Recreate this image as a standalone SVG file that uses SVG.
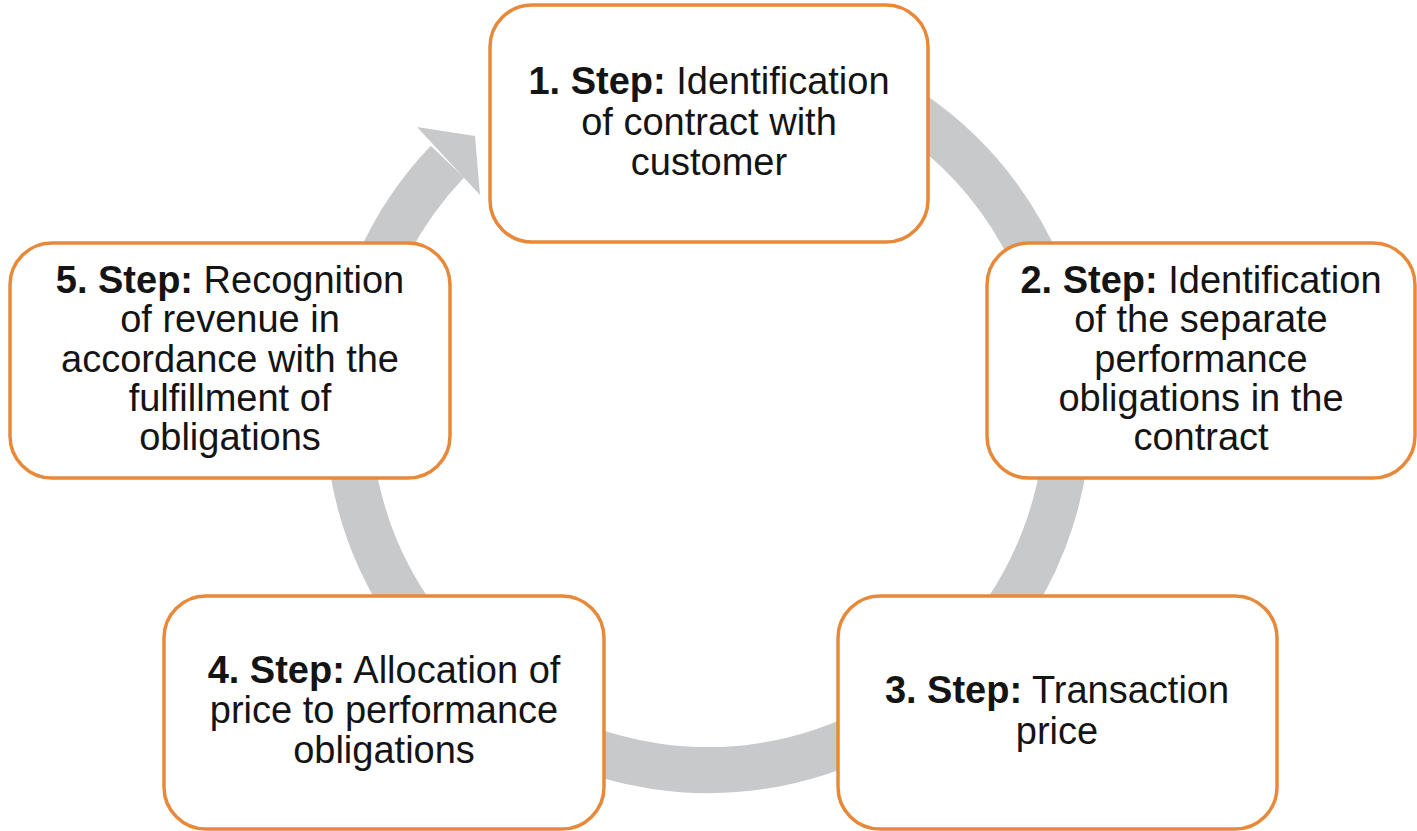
<svg xmlns="http://www.w3.org/2000/svg" width="1417" height="831" viewBox="0 0 1417 831">
  <style>
    .box { fill: #ffffff; stroke: #e8893a; stroke-width: 3.5; }
    .ring { fill: none; stroke: #c8c9cb; stroke-width: 46; }
    .head { fill: #c8c9cb; }
    text { font-family: "Liberation Sans", Arial, sans-serif; font-size: 38px; fill: #141414; text-anchor: middle; }
    .b { font-weight: bold; }
  </style>
  <rect width="1417" height="831" fill="#ffffff"/>
  <g id="connectors">
    <path class="ring" d="M 770.5 55.5 A 360 360 0 1 1 447.4 161.6"/>
    <polygon class="head" points="417,127 480,195 475,136"/>
  </g>
  <g id="step1">
    <rect class="box" x="490" y="5" width="438" height="237" rx="42"/>
    <text x="709" y="94"><tspan class="b">1. Step:</tspan> Identification</text>
    <text x="709" y="135">of contract with</text>
    <text x="709" y="175">customer</text>
  </g>
  <g id="step2">
    <rect class="box" x="987" y="243" width="428" height="235" rx="42"/>
    <text x="1201" y="293"><tspan class="b">2. Step:</tspan> Identification</text>
    <text x="1201" y="332">of the separate</text>
    <text x="1201" y="372">performance</text>
    <text x="1201" y="411">obligations in the</text>
    <text x="1201" y="450">contract</text>
  </g>
  <g id="step3">
    <rect class="box" x="838" y="596" width="439" height="233" rx="42"/>
    <text x="1057" y="703"><tspan class="b">3. Step:</tspan> Transaction</text>
    <text x="1057" y="744">price</text>
  </g>
  <g id="step4">
    <rect class="box" x="164" y="596" width="440" height="233" rx="42"/>
    <text x="384" y="683"><tspan class="b">4. Step:</tspan> Allocation of</text>
    <text x="384" y="723">price to performance</text>
    <text x="384" y="763">obligations</text>
  </g>
  <g id="step5">
    <rect class="box" x="10" y="243" width="440" height="235" rx="42"/>
    <text x="230" y="293"><tspan class="b">5. Step:</tspan> Recognition</text>
    <text x="230" y="332">of revenue in</text>
    <text x="230" y="372">accordance with the</text>
    <text x="230" y="411">fulfillment of</text>
    <text x="230" y="450">obligations</text>
  </g>
</svg>
